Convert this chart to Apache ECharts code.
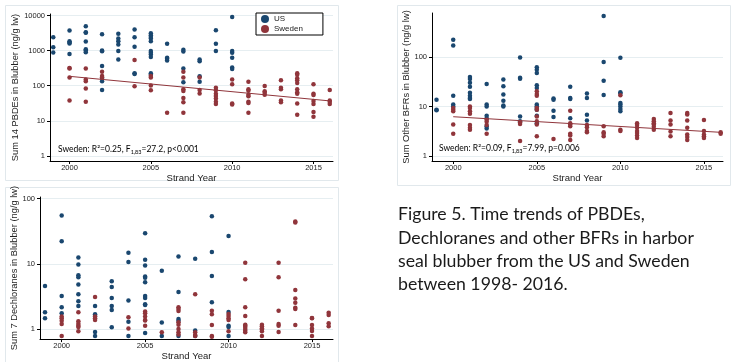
<!DOCTYPE html>
<html>
<head>
<meta charset="utf-8">
<script src="https://cdn.jsdelivr.net/npm/echarts@6/dist/echarts.min.js"></script>
<style>
html,body{margin:0;padding:0;background:#fff;}
#chart{width:732px;height:362px;}
</style>
</head>
<body>
<div id="chart"></div>
<script>
// ---------- DATA ----------
const xTicks = [2000, 2005, 2010, 2015];
const pbdeTicks = [1, 10, 100, 1000, 10000];
const bfrTicks = [1, 10, 100];
const dechTicks = [1, 10, 100];

// Sum 14 PBDEs
const pbdeUSYears = [1999, 2000, 2001, 2002, 2003, 2004, 2005, 2006, 2007, 2008, 2009, 2010];
const pbdeUSVals = [
  [2400, 1250, 880],
  [3700, 1850, 1700, 1600, 800],
  [4900, 3300, 3200, 1800, 1100, 1000, 900],
  [2900, 1000, 950, 365, 165, 135, 75],
  [3000, 2200, 1850, 1480, 970, 560],
  [4000, 2400, 1290, 225, 215],
  [3100, 2750, 2450, 2200, 1850, 970, 870, 780, 660, 225, 205],
  [1560, 630, 590, 525],
  [1050, 940, 310, 125],
  [560, 500, 185, 130],
  [3800, 1560, 980],
  [9000, 980, 870, 630, 330, 300]
];
const pbdeSWYears = [2000, 2001, 2002, 2004, 2005, 2006, 2007, 2008, 2009, 2010, 2011, 2012, 2013, 2014, 2015, 2016];
const pbdeSWVals = [
  [320, 310, 170, 38],
  [310, 150, 135, 84, 35],
  [250, 190, 170],
  [540, 96],
  [190, 170, 102, 74],
  [17],
  [250, 170, 80, 71, 45, 34, 17],
  [170, 75, 60],
  [88, 74, 59, 51, 43, 35, 30],
  [150, 110, 31, 29],
  [130, 80, 72, 55, 50, 35, 32, 17],
  [98, 70, 63, 55],
  [142, 88, 79, 38, 34],
  [225, 205, 162, 142, 120, 79, 65, 59, 31, 15],
  [110, 59, 54, 37, 30, 18, 13],
  [75, 38, 35, 30]
];
const pbdeSWTrend = [[2000, 185], [2016, 37]];

// Sum Other BFRs
const bfrUSYears = [1999, 2000, 2001, 2002, 2003, 2004, 2005, 2006, 2007, 2008, 2009, 2010];
const bfrUSVals = [
  [13.7, 8.6, 8.4],
  [224, 170, 16.5, 10.9, 10],
  [39.5, 36, 30, 25, 19, 16.5, 14.8, 14.1],
  [28.5, 10.9, 10, 6.5, 5.8, 4.0, 3.6],
  [35, 25.5, 17.4, 13.1, 10.5, 10],
  [98, 38, 36.5, 6.3, 5.0],
  [62, 55, 47.6, 26.8, 23.6, 10.9, 10.1, 9.3, 8.6, 6.5, 4.6],
  [14.4, 13.7, 8.2, 6.1],
  [25, 14.8, 14.1, 5.8],
  [18.2, 14.8, 6.8, 5.2],
  [670, 79, 33, 17],
  [97, 19.3, 18.2, 11.8, 10.9, 10, 8.9, 8.0]
];
const bfrSWYears = [2000, 2001, 2002, 2004, 2005, 2006, 2007, 2008, 2009, 2010, 2011, 2012, 2013, 2014, 2015, 2016];
const bfrSWVals = [
  [9.3, 8.6, 8.0, 4.3, 2.8],
  [10, 9.3, 8, 7.1, 4.2, 3.7, 3.4],
  [5.4, 4.9, 4.2, 2.8],
  [4.8, 4.4, 2.0],
  [20.3, 17.9, 16.5, 9.3, 8.6, 6.3, 5.0, 4.3, 2.5],
  [2.2],
  [8.2, 4.6, 4.3, 4.0, 2.8, 2.6, 2.1],
  [4.2, 3.8, 3.2, 3.0],
  [4.0, 3.0, 2.8, 2.5],
  [16.8, 3.4, 3.2],
  [4.6, 4.2, 3.7, 3.2, 2.9, 2.6, 2.3],
  [5.6, 5.0, 4.6, 4.3, 3.9, 3.4],
  [7.4, 5.2, 4.3, 3.1, 2.5],
  [7.4, 6.9, 5.2, 3.7, 2.7, 2.4, 2.1],
  [5.3, 3.2, 2.7, 2.5, 2.3],
  [3.0, 2.8]
];
const bfrSWTrend = [[2000, 6.2], [2016, 3.0]];

// Sum 7 Dechloranes
const dechUSYears = [1999, 2000, 2001, 2002, 2003, 2004, 2005, 2006, 2007, 2008, 2009, 2010];
const dechUSVals = [
  [4.55, 1.80, 1.46],
  [55, 22.2, 3.2, 2.15, 1.74],
  [12.5, 9.8, 6.7, 6.2, 4.8, 3.4, 2.67, 2.25],
  [2.25, 1.68, 1.59, 0.90, 0.78],
  [5.4, 4.4, 3.0, 2.25, 1.96, 1.06],
  [14.8, 10.7, 2.74, 1.29, 0.78],
  [29.4, 11.5, 9.4, 6.4, 6.1, 5.2, 3.2, 3.0, 2.4, 2.33, 0.87],
  [7.8, 1.26, 0.78],
  [12.9, 3.7, 1.43, 1.34, 0.78],
  [12.0, 0.95, 0.78],
  [53.6, 15.2, 6.5, 2.58],
  [26.8, 1.83, 1.12, 1.07, 0.78]
];
const dechSWYears = [2000, 2001, 2002, 2004, 2005, 2006, 2007, 2008, 2009, 2010, 2011, 2012, 2013, 2014, 2015, 2016];
const dechSWVals = [
  [1.55, 1.46, 1.34, 1.19, 0.78],
  [1.80, 1.31, 1.20, 1.12, 1.07, 0.92],
  [3.1, 1.55, 1.46, 1.38],
  [1.52, 1.02],
  [1.85, 1.74, 1.55, 1.38, 1.35, 1.12],
  [0.89],
  [2.15, 2.03, 1.89, 1.27, 1.16, 1.0, 0.89, 0.82],
  [3.4, 0.89, 0.81, 0.78],
  [1.91, 1.68, 1.15, 0.78, 0.76],
  [1.70, 1.59, 1.46, 1.38, 0.92],
  [10.4, 5.8, 2.15, 1.59, 1.16, 1.12, 1.07, 1.0, 0.94, 0.89],
  [1.16, 1.10, 1.03, 0.98, 0.92, 0.78],
  [10.4, 6.2, 1.91, 1.19, 1.12, 0.90],
  [44.5, 43, 3.96, 2.93, 2.52, 2.12, 2.03, 1.15],
  [1.48, 1.46, 1.15, 1.02, 0.93, 0.78],
  [1.78, 1.64, 1.23, 1.10]
];

const seriesNames = ['US', 'Sweden'];
const yTitles = ['Sum 14 PBDEs in Blubber (ng/g lw)', 'Sum Other BFRs in Blubber (ng/g lw)', 'Sum 7 Dechloranes in Blubber (ng/g lw)'];
const xTitle = 'Strand Year';
const captionLines = ['Figure 5. Time trends of PBDEs,', 'Dechloranes and other BFRs in harbor', 'seal blubber from the US and Sweden', 'between 1998- 2016.'];

// ---------- BUILD ----------
function pairs(years, vals) {
  const out = [];
  years.forEach((y, i) => vals[i].forEach(v => out.push([y, v])));
  return out;
}
const US_C = '#1a476f';
const SW_C = '#90353b';
const AX_FONT = 'Liberation Sans';
const GRID_C = '#e6eef1';

function xAxis(gi, min, max, gap) {
  return {
    type: 'value', gridIndex: gi, min: min, max: max,
    name: xTitle, nameLocation: 'middle', nameGap: gap,
    nameTextStyle: {fontFamily: AX_FONT, fontSize: 9.5, color: '#222'},
    axisLine: {show: true, onZero: false, lineStyle: {color: '#000', width: 1}},
    axisTick: {show: true, length: 3, customValues: xTicks, lineStyle: {color: '#000'}},
    axisLabel: {customValues: xTicks, fontFamily: AX_FONT, fontSize: 7.5, color: '#222', margin: 3,
      formatter: v => String(v)},
    splitLine: {show: false}
  };
}
function yAxis(gi, min, max, ticks, title, gap) {
  return {
    type: 'log', logBase: 10, gridIndex: gi, min: min, max: max,
    name: title, nameLocation: 'middle', nameGap: gap, nameRotate: 90,
    nameTextStyle: {fontFamily: AX_FONT, fontSize: 9.3, color: '#222'},
    axisLine: {show: true, onZero: false, lineStyle: {color: '#000', width: 1}},
    axisTick: {show: true, length: 3, customValues: ticks, lineStyle: {color: '#000'}},
    axisLabel: {customValues: ticks, fontFamily: AX_FONT, fontSize: 7.5, color: '#222', margin: 5,
      formatter: v => String(Math.round(v))},
    splitLine: {show: true, lineStyle: {color: GRID_C, width: 1}}
  };
}
function scatter(name, gi, data, color) {
  return {
    name: name, type: 'scatter', xAxisIndex: gi, yAxisIndex: gi, data: data,
    symbol: 'circle', symbolSize: 4.5, itemStyle: {color: color, opacity: 1},
    emphasis: {disabled: true}, animation: false
  };
}
function trend(gi, data) {
  return {
    name: 'trend' + gi, type: 'line', xAxisIndex: gi, yAxisIndex: gi, data: data,
    symbol: 'none', lineStyle: {color: SW_C, width: 1}, z: 3, animation: false
  };
}

const chart = echarts.init(document.getElementById('chart'), null, {renderer: 'canvas'});
const annoRich = {
  a: {fontFamily: 'Lato', fontSize: 8.5, color: '#222'},
  s: {fontFamily: 'Lato', fontSize: 5.5, color: '#222', verticalAlign: 'bottom', padding: [6, 0, 0, 0]}
};
chart.setOption({
  backgroundColor: '#fff',
  animation: false,
  grid: [
    {left: 50, top: 14, width: 283, height: 147},
    {left: 432, top: 13, width: 291, height: 148},
    {left: 40, top: 197, width: 293, height: 145}
  ],
  xAxis: [
    xAxis(0, 1998.8, 2016.2, 9),
    xAxis(1, 1998.73, 2016.14, 9),
    xAxis(2, 1998.7, 2016.26, 11)
  ],
  yAxis: [
    yAxis(0, 0.72, 11000, pbdeTicks, yTitles[0], 30),
    yAxis(1, 0.79, 774, bfrTicks, yTitles[1], 19),
    yAxis(2, 0.70, 106, dechTicks, yTitles[2], 19)
  ],
  legend: {
    data: seriesNames, left: 256, top: 13, orient: 'vertical',
    itemWidth: 8, itemHeight: 8, itemGap: 2, icon: 'circle',
    borderColor: '#000', borderWidth: 1, borderRadius: 0, backgroundColor: '#fff',
    padding: [2, 20, 2, 5],
    textStyle: {fontFamily: AX_FONT, fontSize: 8, color: '#222'}
  },
  series: [
    scatter('US', 0, pairs(pbdeUSYears, pbdeUSVals), US_C),
    scatter('Sweden', 0, pairs(pbdeSWYears, pbdeSWVals), SW_C),
    trend(0, pbdeSWTrend),
    scatter('US', 1, pairs(bfrUSYears, bfrUSVals), US_C),
    scatter('Sweden', 1, pairs(bfrSWYears, bfrSWVals), SW_C),
    trend(1, bfrSWTrend),
    scatter('US', 2, pairs(dechUSYears, dechUSVals), US_C),
    scatter('Sweden', 2, pairs(dechSWYears, dechSWVals), SW_C)
  ],
  graphic: [
    {type: 'rect', z: -10, silent: true, shape: {x: 5.5, y: 5.5, width: 333, height: 175}, style: {fill: 'none', stroke: '#e1e8ec', lineWidth: 1}},
    {type: 'rect', z: -10, silent: true, shape: {x: 397.5, y: 5.5, width: 333, height: 180}, style: {fill: 'none', stroke: '#e1e8ec', lineWidth: 1}},
    {type: 'rect', z: -10, silent: true, shape: {x: 5.5, y: 187.5, width: 333, height: 190}, style: {fill: 'none', stroke: '#e1e8ec', lineWidth: 1}},
    {type: 'text', left: 58, top: 145, silent: true, style: {text: '{a|Sweden: R²=0.25, F}{s|1,83}{a|=27.2, p<0.001}', rich: annoRich}},
    {type: 'text', left: 439, top: 144, silent: true, style: {text: '{a|Sweden: R²=0.09, F}{s|1,83}{a|=7.99, p=0.006}', rich: annoRich}},
    {type: 'text', left: 398, top: 203, silent: true, style: {text: captionLines.join('\n'), fontFamily: 'Lato', fontSize: 17.7, lineHeight: 23.2, fill: '#1a1a1a'}}
  ]
});
</script>
</body>
</html>
